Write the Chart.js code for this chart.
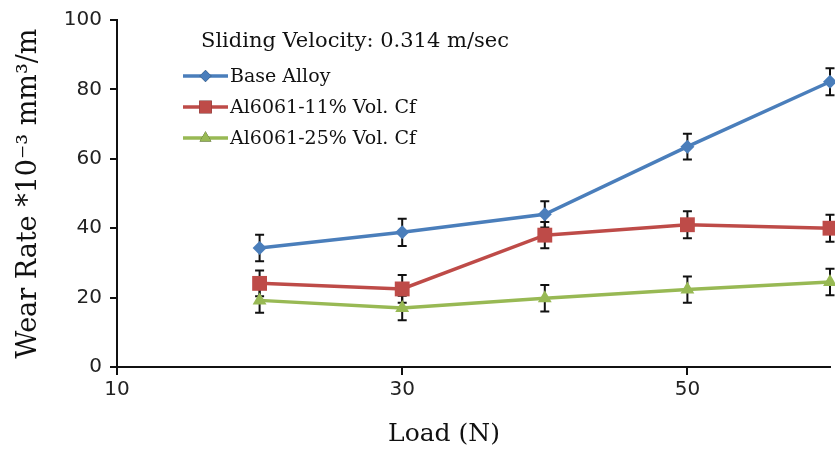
<!DOCTYPE html>
<html>
<head>
  <meta charset="UTF-8">
  <title>Wear Rate vs Load</title>
  <script src="https://cdn.jsdelivr.net/npm/chart.js"></script>
  <style>
    html, body { margin: 0; padding: 0; background: #fff; }
    #wrap { width: 835px; height: 451px; }
  </style>
</head>
<body>
  <div id="wrap"><canvas id="wearChart" width="835" height="451"></canvas></div>

  <script>
    // Load (N) and wear rate (x10^-3 mm^3/m) for each material
    const loads = [20, 30, 40, 50, 60];
    const baseAlloy = [34.3, 38.8, 44.0, 63.5, 82.2];
    const baseAlloyErr = [3.8, 3.9, 3.8, 3.7, 3.9];
    const cf11 = [24.1, 22.5, 38.0, 41.0, 40.0];
    const cf11Err = [3.7, 4.0, 3.8, 3.9, 3.9];
    const cf25 = [19.2, 17.0, 19.8, 22.3, 24.5];
    const cf25Err = [3.6, 3.5, 3.8, 3.8, 3.8];

    const xTicks = [10, 30, 50];
    const yTicks = [0, 20, 40, 60, 80, 100];

    const serif = '"DejaVu Serif", "Liberation Serif", serif';
    const sans = '"DejaVu Sans", "Liberation Sans", sans-serif';

    function pts(vals, errs) {
      return loads.map((x, i) => ({ x: x, y: vals[i], err: errs[i] }));
    }

    // vertical error bars with caps, drawn under the markers
    const errorBars = {
      id: 'errorBars',
      beforeDatasetsDraw(chart) {
        const ctx = chart.ctx;
        const xs = chart.scales.x, ys = chart.scales.y;
        ctx.save();
        ctx.strokeStyle = '#111';
        ctx.lineWidth = 2;
        chart.data.datasets.forEach(ds => {
          ds.data.forEach(p => {
            const px = xs.getPixelForValue(p.x);
            const top = ys.getPixelForValue(p.y + p.err);
            const bot = ys.getPixelForValue(p.y - p.err);
            ctx.beginPath();
            ctx.moveTo(px, top); ctx.lineTo(px, bot);
            ctx.moveTo(px - 4.5, top); ctx.lineTo(px + 4.5, top);
            ctx.moveTo(px - 4.5, bot); ctx.lineTo(px + 4.5, bot);
            ctx.stroke();
          });
        });
        ctx.restore();
      }
    };

    // legend block inside the plot plus the x axis caption
    const labelsPlugin = {
      id: 'labelsPlugin',
      afterDraw(chart) {
        const ctx = chart.ctx;
        ctx.save();
        ctx.fillStyle = '#111';
        ctx.textBaseline = 'middle';
        ctx.textAlign = 'left';
        ctx.font = '21px ' + serif;
        ctx.fillText('Sliding Velocity: 0.314 m/sec', 201, 42);

        const rows = [76, 107, 138];
        chart.data.datasets.forEach((ds, i) => {
          const y = rows[i];
          ctx.strokeStyle = ds.borderColor;
          ctx.lineWidth = 3.5;
          ctx.beginPath();
          ctx.moveTo(183, y); ctx.lineTo(228, y);
          ctx.stroke();
          Chart.helpers.drawPoint(ctx, {
            pointStyle: ds.pointStyle,
            radius: ds.pointRadius * 0.85,
            rotation: 0,
            borderWidth: 0
          }, 205.5, y);
          ctx.fillStyle = ds.backgroundColor;
          ctx.fill();
          ctx.fillStyle = '#111';
          ctx.font = '19px ' + serif;
          ctx.fillText(ds.label, 230, y + 1);
        });

        ctx.textAlign = 'center';
        ctx.font = '25px ' + serif;
        ctx.fillText('Load (N)', 444, 434);
        ctx.restore();
      }
    };

    const ctx = document.getElementById('wearChart').getContext('2d');
    new Chart(ctx, {
      type: 'line',
      data: {
        datasets: [
          { label: 'Base Alloy', data: pts(baseAlloy, baseAlloyErr),
            borderColor: '#4a7ebb', backgroundColor: '#4a7ebb',
            pointStyle: 'rectRot', pointRadius: 7 },
          { label: 'Al6061-11% Vol. Cf', data: pts(cf11, cf11Err),
            borderColor: '#be4b48', backgroundColor: '#be4b48',
            pointStyle: 'rect', pointRadius: 10.5 },
          { label: 'Al6061-25% Vol. Cf', data: pts(cf25, cf25Err),
            borderColor: '#98b954', backgroundColor: '#98b954',
            pointStyle: 'triangle', pointRadius: 8 }
        ].map(d => Object.assign(d, { borderWidth: 3.5, pointBorderWidth: 0, clip: false, tension: 0 }))
      },
      options: {
        responsive: false,
        animation: false,
        events: [],
        layout: { autoPadding: false, padding: { top: 17, right: 5, left: 0, bottom: 0 } },
        plugins: { legend: { display: false }, tooltip: { enabled: false } },
        scales: {
          x: {
            type: 'linear', min: 10, max: 60,
            afterBuildTicks: s => { s.ticks = xTicks.map(v => ({ value: v })); },
            afterFit: s => { s.height = 84; s.paddingLeft = 0; s.paddingRight = 0; },
            grid: { drawOnChartArea: false, drawTicks: true, tickLength: 8, color: '#111', lineWidth: 2 },
            border: { display: true, color: '#111', width: 2 },
            ticks: { color: '#222', font: { family: sans, size: 20 }, padding: 3, maxRotation: 0 }
          },
          y: {
            min: 0, max: 100,
            afterBuildTicks: s => { s.ticks = yTicks.map(v => ({ value: v })); },
            afterFit: s => { s.width = 117; },
            grid: { drawOnChartArea: false, drawTicks: true, tickLength: 7, color: '#111', lineWidth: 2 },
            border: { display: true, color: '#111', width: 2 },
            ticks: { color: '#222', font: { family: sans, size: 20 }, padding: 8 },
            title: {
              display: true,
              text: 'Wear Rate *10\u207B\u00B3 mm\u00B3/m',
              color: '#111',
              font: { family: serif, size: 27 },
              padding: { top: 13, bottom: 0 }
            }
          }
        }
      },
      plugins: [errorBars, labelsPlugin]
    });
  </script>
</body>
</html>
